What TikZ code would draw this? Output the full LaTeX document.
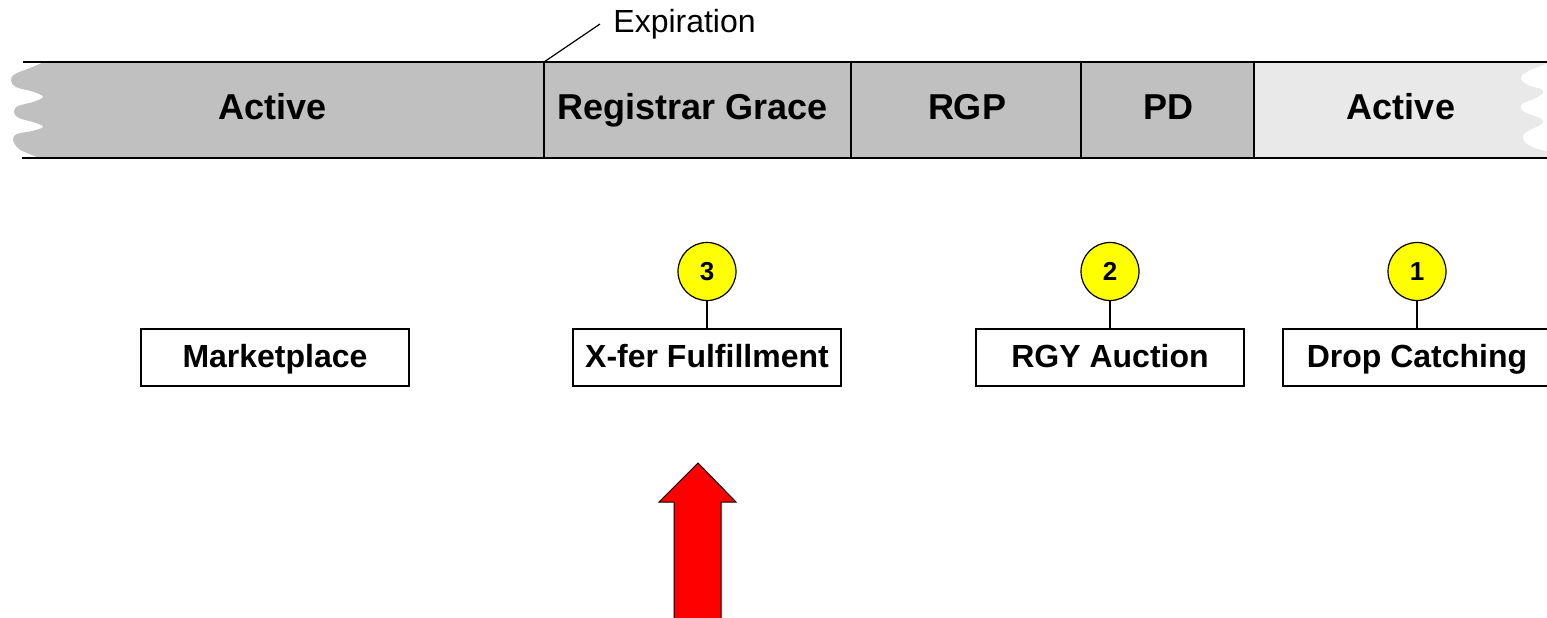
\documentclass[tikz,border=0pt]{standalone}
\usepackage{fontspec}
\setmainfont{Liberation Sans}
\definecolor{bandgray}{HTML}{C0C0C0}
\definecolor{bandlight}{HTML}{E9E9E9}
\definecolor{badgeyellow}{HTML}{FFFF00}
\definecolor{arrowred}{HTML}{FF0000}
\begin{document}
\begin{tikzpicture}[x=0.5pt,y=-0.5pt,
  seglabel/.style={font=\fontsize{18}{21}\selectfont\bfseries, inner sep=0pt, anchor=base},
  boxnode/.style={draw, line width=0.6pt, minimum width=134pt, minimum height=28.5pt, inner sep=0pt},
  boxtext/.style={font=\fontsize{16}{19}\selectfont\bfseries, inner sep=0pt, anchor=base},
  badge/.style={circle, draw, line width=0.6pt, fill=badgeyellow, minimum size=29pt, inner sep=0pt},
  badgetext/.style={font=\fontsize{13}{15}\selectfont\bfseries, inner sep=0pt, anchor=base},
  thinline/.style={line width=0.6pt}]
\useasboundingbox (0,0) rectangle (1547,617);
% band fills
\fill[bandgray] plot[smooth, tension=0.6] coordinates {(44,62) (30,68) (15,74) (11,80) (16,87) (34,92) (43,97) (33,102) (18,106) (14,112) (19,118) (36,123) (43,127) (32,131) (17,134) (13,140) (19,149) (32,155) (40,158)}
  -- (1254,158) -- (1254,62) -- cycle;
\fill[bandlight] (1254,62) rectangle (1547,158);
\fill[white] plot[smooth, tension=0.6] coordinates {(1547,64) (1538,67) (1525,73) (1521,79) (1528,85) (1541,89) (1543,93) (1534,99) (1522,104) (1522,110) (1532,115) (1542,119) (1542,124) (1530,130) (1523,135) (1525,142) (1535,148) (1547,151)} -- cycle;
% band lines
\coordinate (tl) at (23,62);
\coordinate (tr) at (1547,62);
\coordinate (bl) at (22,158);
\coordinate (br) at (1547,158);
\draw[thinline] (tl) -- (tr);
\draw[thinline] (bl) -- (br);
\foreach \xx/\nm in {544/d1,851/d2,1081/d3,1254/d4}{
  \coordinate (\nm t) at (\xx,62);
  \coordinate (\nm b) at (\xx,158);
  \draw[thinline] (\nm t) -- (\nm b);
}
% segment labels
\node[seglabel] (seg1) at (273,119.5) {Active};
\node[seglabel] (seg2) at (693,119.5) {Registrar Grace};
\node[seglabel] (seg3) at (967,119.5) {RGP};
\node[seglabel] (seg4) at (1168,119.5) {PD};
\node[seglabel] (seg5) at (1401,119.5) {Active};
% expiration
\node[font=\fontsize{16}{19}\selectfont, inner ysep=0pt, inner xsep=0pt, anchor=base west] (exp) at (613,32.5) {Expiration};
\coordinate (expend) at (600,24);
\draw[thinline] (d1t) -- (expend);
% boxes
\node[boxnode] (mkt) at (275,357.5) {};
\node[boxnode] (xfer) at (707,357.5) {};
\node[boxnode] (rgy) at (1110,357.5) {};
\node[boxnode] (drop) at (1417,357.5) {};
\node[boxtext] (mktt) at (275,367) {Marketplace};
\node[boxtext] (xfert) at (707,367) {X-fer Fulfillment};
\node[boxtext] (rgyt) at (1110,367) {RGY Auction};
\node[boxtext] (dropt) at (1417,367) {Drop Catching};
% badges
\node[badge] (b3) at (707,271.5) {};
\node[badge] (b2) at (1110,271.5) {};
\node[badge] (b1) at (1417,271.5) {};
\node[badgetext] (b3t) at (707,280) {3};
\node[badgetext] (b2t) at (1110,280) {2};
\node[badgetext] (b1t) at (1417,280) {1};
\draw[thinline] (b3) -- (xfer);
\draw[thinline] (b2) -- (rgy);
\draw[thinline] (b1) -- (drop);
% red arrow
\filldraw[fill=arrowred, draw=black, line width=0.5pt]
  (698,463) -- (736,502) -- (721,502) -- (721,630) -- (674,630) -- (674,502) -- (659,502) -- cycle;
\end{tikzpicture}
\end{document}
